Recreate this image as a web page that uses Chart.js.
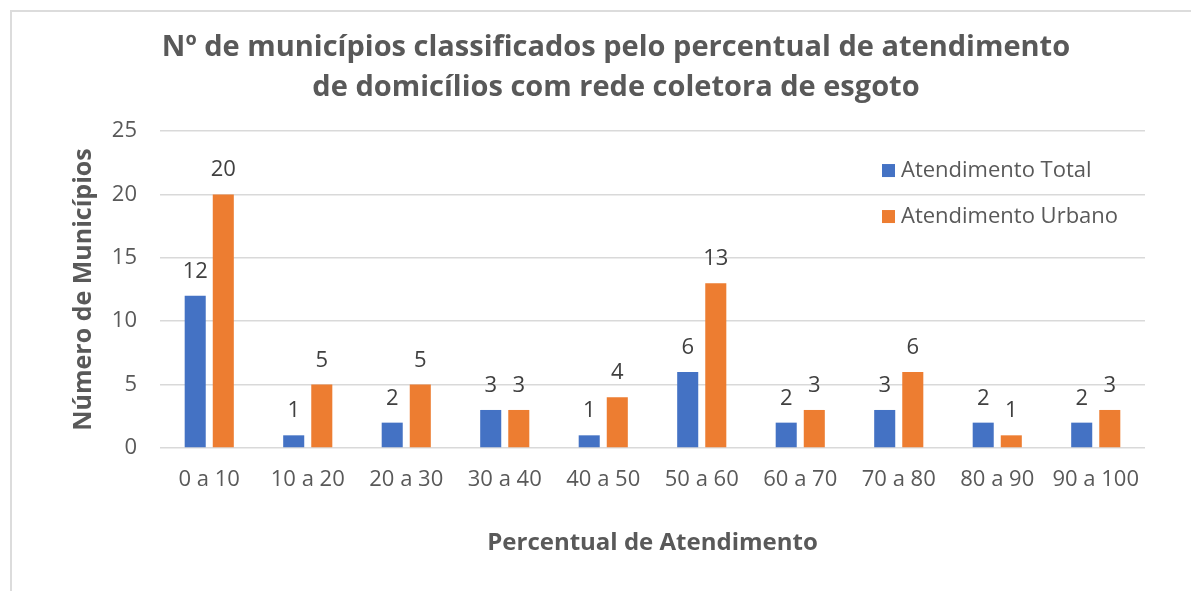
<!DOCTYPE html>
<html>
<head>
<meta charset="utf-8">
<script src="https://cdn.jsdelivr.net/npm/chart.js@4.4.1/dist/chart.umd.min.js"></script>
<style>
  html, body { margin: 0; padding: 0; background: #fff; overflow: hidden; }
  #frame {
    position: absolute; left: 10px; top: 10px; width: 1300px; height: 700px;
    border-left: 2px solid #dcdcdc; border-top: 2px solid #dcdcdc;
  }
  #wrap { position: absolute; left: 41px; top: 0; width: 1150px; height: 591px; }
</style>
</head>
<body>
<div id="frame"></div>
<div id="wrap"><canvas id="escChart"></canvas></div>
<script>
// Faixas de percentual de atendimento
const categories = ['0 a 10', '10 a 20', '20 a 30', '30 a 40', '40 a 50',
  '50 a 60', '60 a 70', '70 a 80', '80 a 90', '90 a 100'];

const totalValues = [12, 1, 2, 3, 1, 6, 2, 3, 2, 2];
const urbanValues = [20, 5, 5, 3, 4, 13, 3, 6, 1, 3];

const seriesNames = ['Atendimento Total', 'Atendimento Urbano'];
const seriesColors = ['#4472C4', '#ED7D31'];

const yTicks = [0, 5, 10, 15, 20, 25];

const FONT = "'Open Sans', 'Liberation Sans', sans-serif";
const TEXT_GRAY = '#595959';

// value labels above each bar
const valueLabels = {
  id: 'valueLabels',
  afterDatasetsDraw(chart) {
    const { ctx, data } = chart;
    ctx.save();
    ctx.font = '22px ' + FONT;
    ctx.fillStyle = '#404040';
    ctx.textAlign = 'center';
    ctx.textBaseline = 'alphabetic';
    data.datasets.forEach((dataset, i) => {
      chart.getDatasetMeta(i).data.forEach((bar, j) => {
        ctx.fillText(dataset.data[j], bar.x, bar.y - 18);
      });
    });
    ctx.restore();
  }
};

// legend drawn inside the plot, top right
const innerLegend = {
  id: 'innerLegend',
  afterDraw(chart) {
    const { ctx, chartArea } = chart;
    ctx.save();
    ctx.font = '22px ' + FONT;
    ctx.textBaseline = 'middle';
    ctx.textAlign = 'left';
    chart.data.datasets.forEach((ds, i) => {
      const y = chartArea.top + 39 + i * 46;
      const x = chartArea.right - 263;
      ctx.fillStyle = ds.backgroundColor;
      ctx.fillRect(x, y - 6, 13, 13);
      ctx.fillStyle = TEXT_GRAY;
      ctx.fillText(ds.label, x + 19, y + 1);
    });
    ctx.restore();
  }
};

new Chart(document.getElementById('escChart'), {
  type: 'bar',
  data: {
    labels: categories,
    datasets: [
      { label: seriesNames[0], data: totalValues, backgroundColor: seriesColors[0] },
      { label: seriesNames[1], data: urbanValues, backgroundColor: seriesColors[1] }
    ]
  },
  plugins: [valueLabels, innerLegend],
  options: {
    responsive: true,
    maintainAspectRatio: false,
    animation: false,
    datasets: {
      bar: { categoryPercentage: 0.57, barPercentage: 0.75 }
    },
    layout: { padding: 0 },
    plugins: {
      legend: { display: false },
      tooltip: { enabled: false },
      title: {
        display: true,
        text: ['Nº de municípios classificados pelo percentual de atendimento',
               'de domicílios com rede coletora de esgoto'],
        color: TEXT_GRAY,
        font: { family: FONT, size: 29, weight: 'bold', lineHeight: 1.38 },
        padding: { top: 28, bottom: 23 }
      }
    },
    scales: {
      x: {
        grid: { display: false, drawTicks: false },
        border: { display: false },
        ticks: { color: TEXT_GRAY, font: { family: FONT, size: 22 }, padding: 19, maxRotation: 0 },
        title: {
          display: true,
          text: 'Percentual de Atendimento',
          color: TEXT_GRAY,
          font: { family: FONT, size: 24, weight: 'bold', lineHeight: 1.2 },
          padding: { top: 0, bottom: 33 }
        },
        afterFit(scale) { scale.height = 143; }
      },
      y: {
        min: 0,
        max: 25,
        afterBuildTicks(scale) { scale.ticks = yTicks.map(v => ({ value: v })); },
        grid: { color: '#d9d9d9', lineWidth: 1.5, drawTicks: false },
        border: { display: false },
        ticks: { color: TEXT_GRAY, font: { family: FONT, size: 22 }, padding: 23 },
        title: {
          display: true,
          text: 'Número de Municípios',
          color: TEXT_GRAY,
          font: { family: FONT, size: 25, weight: 'bold', lineHeight: 1.2 },
          padding: { top: 28, bottom: 0 }
        },
        afterFit(scale) { scale.width = 119; }
      },
      // empty right axis, only keeps blank space right of the plot
      yRight: {
        position: 'right',
        min: 0,
        max: 25,
        grid: { display: false, drawTicks: false },
        border: { display: false },
        ticks: { display: false },
        afterFit(scale) { scale.width = 46; }
      }
    }
  }
});
</script>
</body>
</html>
